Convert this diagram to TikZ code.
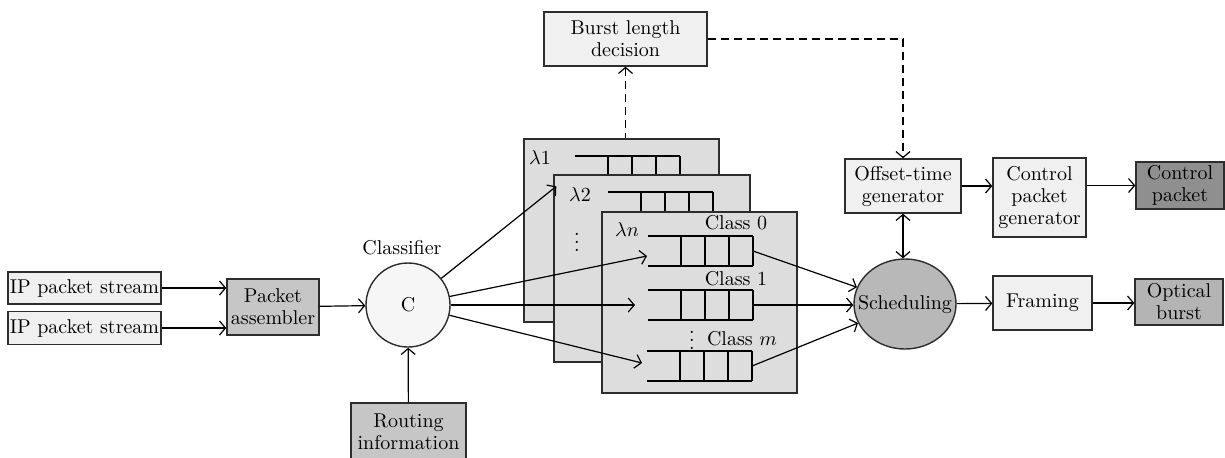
\documentclass[tikz,border=0pt]{standalone}
\usepackage{tikz}
\usetikzlibrary{shapes.geometric, arrows.meta, calc}
\definecolor{BoxLight}{RGB}{240,240,240}
\definecolor{BoxMid}{RGB}{198,198,198}
\definecolor{BoxDark}{RGB}{143,143,143}
\definecolor{BurstGray}{RGB}{180,180,180}
\definecolor{PanelGray}{RGB}{221,221,221}
\definecolor{SchedGray}{RGB}{184,184,184}
\definecolor{EdgeGray}{RGB}{45,45,45}

\begin{document}
\begin{tikzpicture}[x=0.5pt, y=-0.5pt,
    >={Straight Barb[length=3pt,width=7pt]},
    box/.style={rectangle, draw=EdgeGray, line width=0.7pt, inner sep=1pt,
                align=center, font=\fontsize{10}{11}\selectfont},
    panel/.style={rectangle, draw=EdgeGray, fill=PanelGray, line width=0.7pt,
                  inner sep=0pt},
    lbl/.style={font=\fontsize{10}{11}\selectfont, inner sep=0pt},
    arr/.style={->, line width=0.6pt},
    dashline/.style={dash pattern=on 4pt off 2.5pt, line width=0.6pt},
    queue/.pic={
      \draw[line width=0.7pt] (0,-15) -- (105,-15) (0,15) -- (105,15);
      \foreach \cx in {33,57,81,105}
        \draw[line width=0.7pt] (\cx,-15) -- (\cx,15);
      \coordinate (-in) at (0,0);
      \coordinate (-out) at (105,0);
    }
  ]
  \useasboundingbox (0,0) rectangle (1225,457);

  % input side
  \node[box, fill=BoxLight, minimum width=74.5pt, minimum height=16pt]
        (ip1) at (84.5,288) {IP packet stream};
  \node[box, fill=BoxLight, minimum width=74.5pt, minimum height=16.5pt]
        (ip2) at (84.5,328) {IP packet stream};
  \node[box, fill=BoxMid, minimum width=46pt, minimum height=28pt]
        (asm) at (273,307) {Packet\\assembler};
  \draw[arr] (ip1.east) -- (ip1.east -| asm.west);
  \draw[arr] (ip2.east) -- (ip2.east -| asm.west);

  % classifier
  \node[circle, draw=EdgeGray, fill=BoxLight!60, line width=0.7pt,
        minimum size=42pt, inner sep=0pt, font=\fontsize{10}{11}\selectfont]
        (C) at (408,305) {C};
  \node[lbl] (clsname) at (402,248) {Classifier};
  \node[box, fill=BoxMid, minimum width=57.5pt, minimum height=29pt]
        (route) at (408.5,432) {Routing\\information};
  \draw[arr] (asm) -- (C);
  \draw[arr] (route) -- (C);

  % wavelength planes, back to front
  \node[panel, minimum width=97.5pt, minimum height=91.5pt] (lam1) at (621.5,230.5) {};
  \node[lbl] (lam1txt) at (540,158) {$\lambda1$};
  \pic (qa) at (575,171) {queue};

  \node[panel, minimum width=98pt, minimum height=93.5pt] (lam2) at (652,268.5) {};
  \node[lbl] (lam2txt) at (580,195) {$\lambda2$};
  \node[lbl] (lam2dots) at (577,236) {$\vdots$};
  \pic (qb) at (608,207) {queue};

  \node[panel, minimum width=97.5pt, minimum height=90.5pt] (lamn) at (699.5,302.5) {};
  \node[lbl] (lamntxt) at (627,230) {$\lambda n$};
  \node[lbl] (cls0) at (736,223) {Class 0};
  \node[lbl] (cls1) at (736,279) {Class 1};
  \node[lbl] (clsdots) at (692,334) {$\vdots$};
  \node[lbl] (clsm) at (742,339) {Class $m$};
  \pic (q0) at (648,251) {queue};
  \pic (q1) at (648,305) {queue};
  \pic (qm) at (647,366) {queue};

  \draw[arr] (C) -- ([shift={(3,12)}]lam2.north west);
  \draw[arr] (C) -- ([shift={(-1,5)}]q0-in);
  \draw[arr] (C) -- ([shift={(-13,0)}]q1-in);
  \draw[arr] (C) -- ([shift={(-5,-3)}]qm-in);

  % burst length feedback
  \node[box, fill=BoxLight, minimum width=81.5pt, minimum height=27pt]
        (burst) at (625.5,39) {Burst length\\decision};

  % output side
  \node[ellipse, draw=EdgeGray, fill=SchedGray, line width=0.7pt,
        minimum width=51pt, minimum height=45pt, inner sep=0pt,
        label={[lbl]center:Scheduling}] (sched) at (905,304) {};
  \node[box, fill=BoxLight, minimum width=58pt, minimum height=27pt]
        (offset) at (903,186) {Offset-time\\generator};
  \node[box, fill=BoxLight, minimum width=46.5pt, minimum height=39.5pt]
        (ctrlgen) at (1039.5,197.5) {Control\\packet\\generator};
  \node[box, fill=BoxDark, minimum width=44pt, minimum height=23.5pt]
        (ctrl) at (1180,185.5) {Control\\packet};
  \node[box, fill=BoxLight, minimum width=49.5pt, minimum height=27pt]
        (framing) at (1042.5,303) {Framing};
  \node[box, fill=BurstGray, minimum width=44pt, minimum height=23pt]
        (optical) at (1179,302) {Optical\\burst};

  \draw[arr] (q0-out) -- (sched);
  \draw[arr] (q1-out) -- (q1-out -| sched.west);
  \draw[arr] (qm-out) -- (sched);
  \draw[<->, line width=0.6pt] (offset.south) -- (offset.south |- sched.north);
  \draw[arr] (offset.east) -- (offset.east -| ctrlgen.west);
  \draw[arr] (ctrl.west -| ctrlgen.east) -- (ctrl.west);
  \draw[arr] (sched) -- (framing);
  \draw[arr] (framing.east) -- (framing.east -| optical.west);

  \draw[<-, dashline] (burst.south) -- (burst.south |- lam1.north);
  \draw[->, dashline] (burst.east) -| (offset.north);
\end{tikzpicture}
\end{document}
